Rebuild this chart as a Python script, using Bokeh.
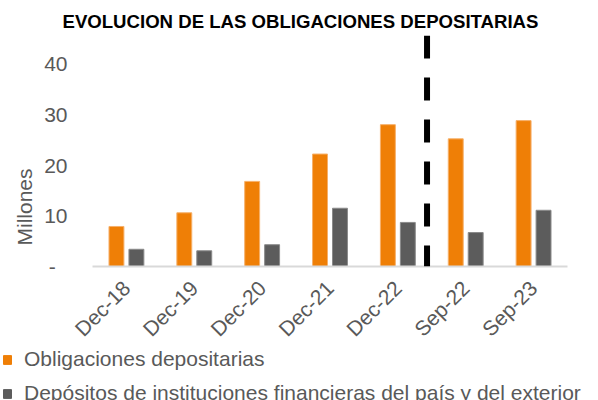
import math
from bokeh.plotting import figure
from bokeh.layouts import column
from bokeh.models import (ColumnDataSource, FactorRange, Range1d, Span, Title,
                          Legend, LegendItem, FixedTicker)
from bokeh.transform import dodge
from bokeh.embed import file_html
from bokeh.resources import INLINE

categories = ["Dec-18", "Dec-19", "Dec-20", "Dec-21", "Dec-22", "Sep-22", "Sep-23"]
obligaciones = [7.9, 10.6, 16.8, 22.2, 28.0, 25.2, 28.8]
depositos = [3.4, 3.1, 4.3, 11.5, 8.7, 6.7, 11.1]
y_ticks = [0, 10, 20, 30, 40]
title_text = "EVOLUCION DE LAS OBLIGACIONES DEPOSITARIAS"
series_names = ["Obligaciones depositarias",
                "Depósitos de instituciones financieras del país y del exterior"]
y_label = "Millones"

ORANGE = "#EF7F06"
GRAY = "#5C5C5C"
TXT = "#595959"
FONT = "Liberation Sans"
FS = "21px"

src = ColumnDataSource(dict(cat=categories, a=obligaciones, b=depositos))

# ---------------- main chart ----------------
p1 = figure(width=598, height=351, x_range=FactorRange(*categories, range_padding=0),
            y_range=Range1d(0, 45.6), output_backend="svg", toolbar_location=None,
            min_border_left=92, min_border_right=31, min_border_top=35, min_border_bottom=83)
p1.frame_align = False
p1.outline_line_color = None
p1.xgrid.grid_line_color = None
p1.ygrid.grid_line_color = None

p1.title.text = title_text
p1.title.align = "left"
p1.title.offset = -30
p1.title.standoff = 8
p1.title.text_font = FONT
p1.title.text_font_size = "18.6px"
p1.title.text_font_style = "bold"
p1.title.text_color = "black"

r1 = p1.vbar(x=dodge("cat", -0.147, range=p1.x_range), top="a", width=0.22, source=src,
             fill_color=ORANGE, line_color="#F6B06A", line_width=1)
r2 = p1.vbar(x=dodge("cat", 0.147, range=p1.x_range), top="b", width=0.22, source=src,
             fill_color=GRAY, line_color="#8A8A8A", line_width=1)

p1.add_layout(Span(location=4.93, dimension="height", line_color="black",
                   line_width=6, line_dash="23 19"))

p1.yaxis.ticker = FixedTicker(ticks=y_ticks)
p1.yaxis.major_label_overrides = {0: "-\u00a0\u00a0"}
p1.yaxis.axis_line_color = None
p1.yaxis.major_tick_line_color = None
p1.yaxis.minor_tick_line_color = None
p1.yaxis.major_tick_out = 0
p1.yaxis.major_tick_in = 0
p1.yaxis.minor_tick_out = 0
p1.yaxis.major_label_standoff = 25
p1.yaxis.major_label_text_font = FONT
p1.yaxis.major_label_text_font_size = FS
p1.yaxis.major_label_text_color = TXT

p1.xaxis.axis_line_color = "#D9D9D9"
p1.xaxis.axis_line_width = 2
p1.xaxis.major_tick_line_color = None
p1.xaxis.minor_tick_line_color = None
p1.xaxis.major_tick_out = 0
p1.xaxis.major_tick_in = 0
p1.xaxis.major_label_orientation = math.pi / 4
p1.xaxis.major_label_standoff = 18
p1.xaxis.major_label_text_font = FONT
p1.xaxis.major_label_text_font_size = FS
p1.xaxis.major_label_text_color = TXT

p1.add_layout(Title(text=y_label, align="left", offset=21, standoff=11,
                    text_font=FONT, text_font_size=FS, text_font_style="normal",
                    text_color=TXT), "left")

# ---------------- legend strip ----------------
p2 = figure(width=598, height=49, x_range=FactorRange(*categories),
            y_range=Range1d(100, 200),
            output_backend="svg", toolbar_location=None,
            x_axis_location=None, y_axis_location=None, min_border=0)
p2.frame_align = False
p2.outline_line_color = None
p2.xgrid.grid_line_color = None
p2.ygrid.grid_line_color = None
# same series, drawn below this strip's visible range: only their legend swatches show
g1 = p2.vbar(x="cat", top="a", width=0.2, source=src, fill_color=ORANGE, line_color=ORANGE)
g2 = p2.vbar(x="cat", top="b", width=0.2, source=src, fill_color=GRAY, line_color=GRAY)

legend = Legend(items=[LegendItem(label=series_names[0], renderers=[g1]),
                       LegendItem(label=series_names[1], renderers=[g2])],
                location=(2, -5), orientation="vertical",
                glyph_width=10, glyph_height=11, label_standoff=12, spacing=10,
                label_height=24, padding=0, margin=0, border_line_color=None,
                background_fill_alpha=0,
                label_text_font=FONT, label_text_font_size=FS, label_text_color=TXT)
p2.add_layout(legend)

p = column(p1, p2, spacing=0)
open("out.html", "w").write(file_html(p, INLINE))
